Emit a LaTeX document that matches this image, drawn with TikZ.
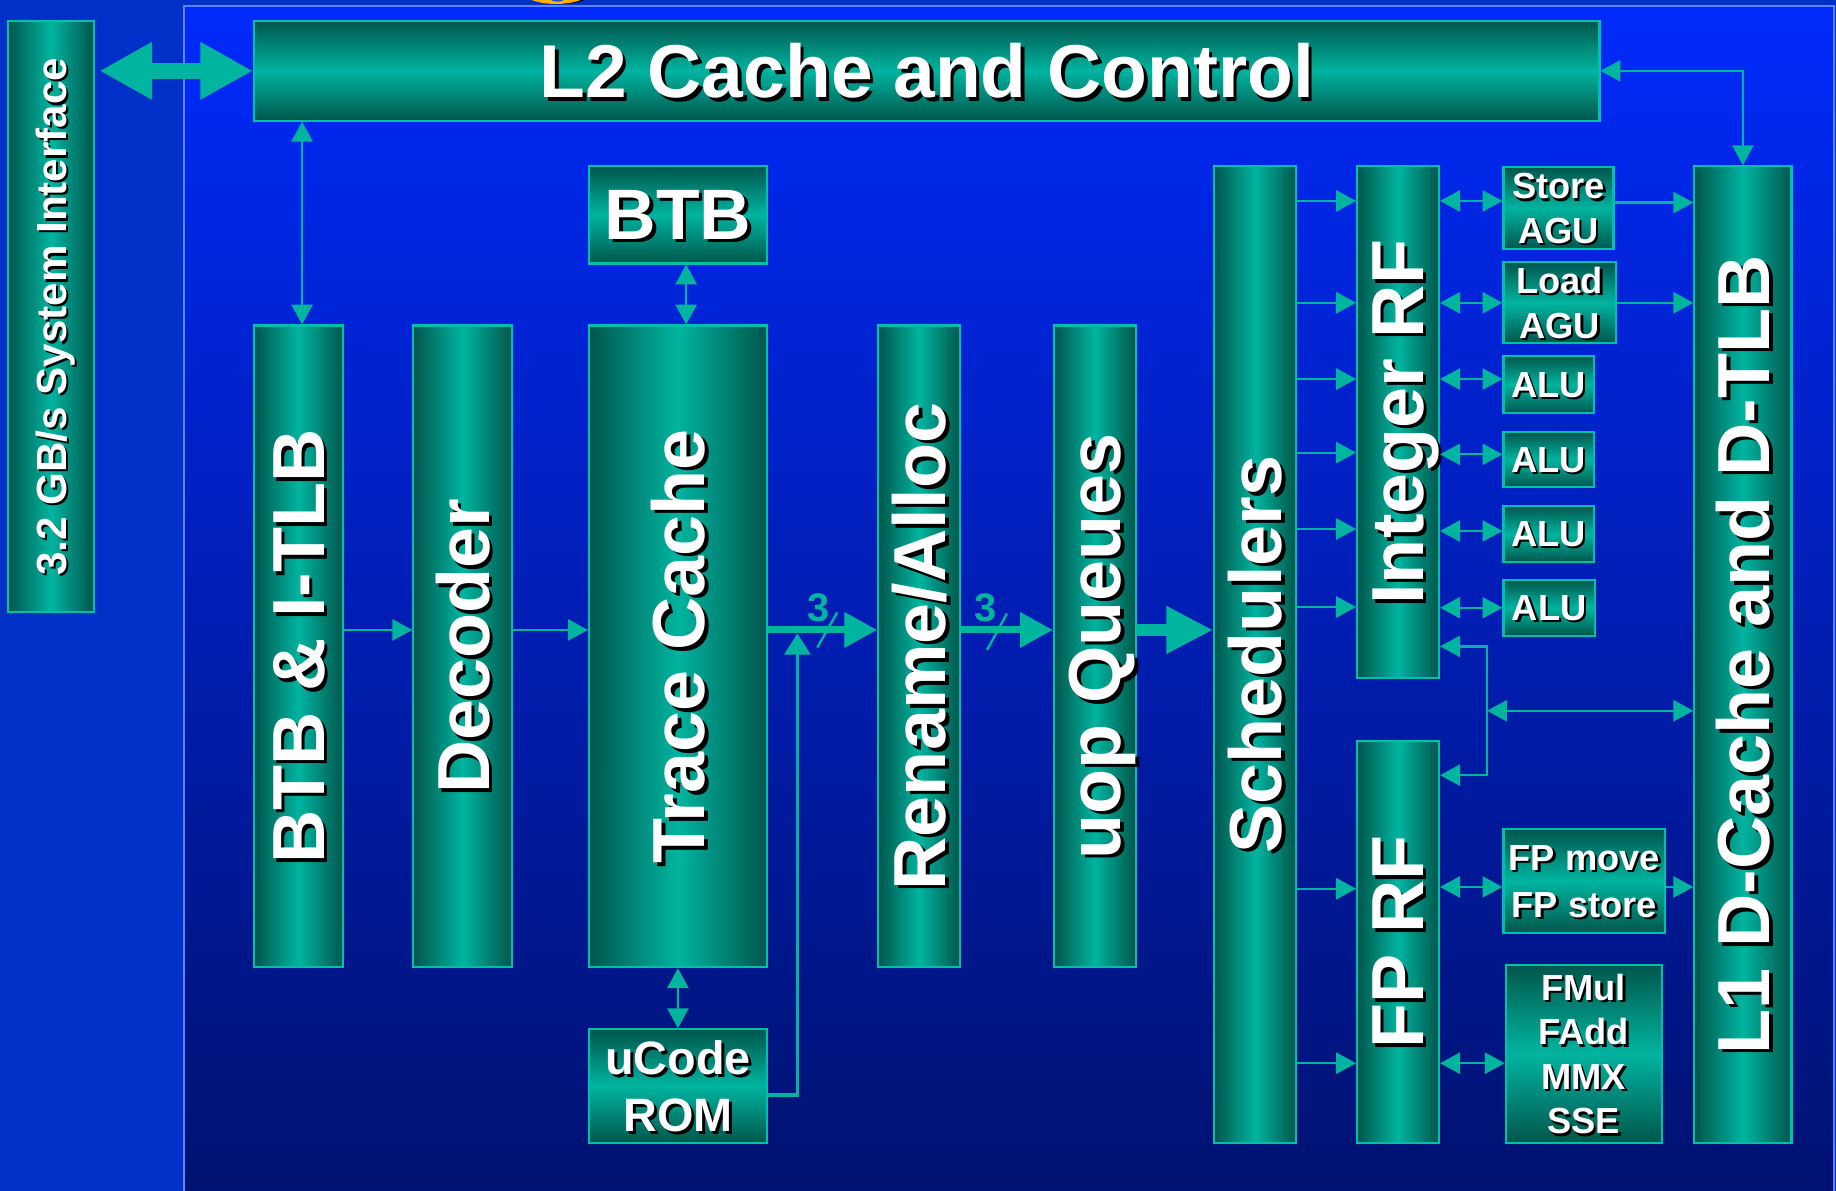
\documentclass[tikz,border=0pt]{standalone}
\usepackage{fontspec}
\usepackage{graphicx}
\setmainfont{Liberation Sans}
\usetikzlibrary{arrows.meta}
\definecolor{tealB}{RGB}{0,180,160}
\definecolor{tealD}{RGB}{0,86,76}
\definecolor{tealE}{RGB}{0,192,172}
\definecolor{bgOut}{RGB}{0,48,200}
\definecolor{bgTop}{RGB}{0,42,250}
\definecolor{bgBot}{RGB}{0,18,112}
\definecolor{panelEdge}{RGB}{95,130,255}
\definecolor{logoOr}{RGB}{255,176,0}
\definecolor{logoIn}{RGB}{40,70,200}
\newcommand\shH[2][2.5pt]{\raisebox{0pt}[\height][0pt]{\makebox[0pt][l]{\kern#1\raisebox{-#1}{\color{black}#2}}#2}}
\newcommand\shV[2][2.5pt]{\rotatebox{90}{\raisebox{0pt}[\height][0pt]{\makebox[0pt][l]{\kern-#1\raisebox{-#1}{\color{black}#2}}#2}}}
\newcommand\fsz[2]{\fontsize{#1}{#2}\selectfont}
\begin{document}
\begin{tikzpicture}[x=1pt,y=-1pt,
  box/.style={draw=tealE, line width=1.8pt, text=white, inner sep=0pt},
  hbox/.style={box, top color=tealD, bottom color=tealD, middle color=tealB},
  vbox/.style={box, left color=tealD, right color=tealD, middle color=tealB},
  conn/.style={draw=tealB, line width=2pt},
  >={Triangle[length=17pt,width=18pt]},
  bigv/.style={font=\bfseries\fsz{63}{70}},
  small/.style={font=\bfseries\fsz{31}{38}, align=center}]
\useasboundingbox (0,0) rectangle (1568,1017);
% background
\fill[bgOut] (0,0) rectangle (1568,1017);
\shade[top color=bgTop, bottom color=bgBot] (157,5) rectangle (1566,1017);
\draw[panelEdge, line width=2pt] (157,1022) -- (157,5) -- (1566,5) -- (1566,1022);
\begin{scope}
  \clip (430,0) rectangle (530,4.5);
  \fill[black] (478,-10) ellipse (31.5 and 13.4);
  \fill[logoOr] (475,-10) ellipse (31.5 and 13.4);
  \fill[logoIn] (476,-8) ellipse (10 and 9.5);
\end{scope}
% helper coordinates
\coordinate (x258) at (258,0);
\coordinate (x586) at (586,0);
\coordinate (x681) at (681,0);
\coordinate (xbus) at (1270,0);
\coordinate (y538) at (0,538);
\coordinate (y541) at (0,541);
\coordinate (y935) at (0,935);
\coordinate (y552) at (0,552);
\coordinate (y607) at (0,607);
\coordinate (y662) at (0,662);
% boxes
\node[vbox, minimum width=73pt, minimum height=505pt, font=\bfseries\fsz{36}{40}] (sysif) at (43.5,270.5) {\shV[2pt]{3.2 GB/s System Interface}};
\node[hbox, minimum width=1149pt, minimum height=85pt, font=\bfseries\fsz{64}{70}] (l2) at (791.5,60.5) {\shH[3pt]{L2 Cache and Control}};
\node[hbox, minimum width=152pt, minimum height=83pt, font=\bfseries\fsz{61}{66}] (btb) at (579,183.5) {\shH[3pt]{BTB}};
\node[vbox, bigv, minimum width=76pt, minimum height=548pt] (btbitlb) at (255,552) {\shV[3pt]{BTB \& I-TLB}};
\node[vbox, bigv, minimum width=84pt, minimum height=548pt] (decoder) at (395,552) {\shV[3pt]{Decoder}};
\node[vbox, bigv, minimum width=152pt, minimum height=548pt] (trace) at (579,552) {\shV[3pt]{Trace Cache}};
\node[hbox, minimum width=152pt, minimum height=97pt, align=center, font=\bfseries\fsz{40}{48}] (ucode) at (579,927.5) {\shH{uCode}\\\shH{ROM}};
\node[vbox, bigv, minimum width=70pt, minimum height=548pt] (rename) at (785,552) {\shV[3pt]{Rename/Alloc}};
\node[vbox, bigv, minimum width=70pt, minimum height=548pt] (uopq) at (935,552) {\shV[3pt]{uop Queues}};
\node[vbox, bigv, minimum width=70pt, minimum height=834pt] (sched) at (1072,559) {\shV[3pt]{Schedulers}};
\node[vbox, bigv, minimum width=70pt, minimum height=437pt] (intrf) at (1194,360.5) {\shV[3pt]{Integer RF}};
\node[vbox, bigv, minimum width=70pt, minimum height=343pt] (fprf) at (1194,804.5) {\shV[3pt]{FP RF}};
\node[hbox, small, minimum width=94pt, minimum height=70pt] (sagu) at (1331,178) {\shH[2pt]{Store}\\\shH[2pt]{AGU}};
\node[hbox, small, minimum width=96pt, minimum height=69pt] (lagu) at (1332,258.5) {\shH[2pt]{Load}\\\shH[2pt]{AGU}};
\node[hbox, small, minimum width=77pt, minimum height=49pt] (alu1) at (1322.5,328.5) {\shH[2pt]{ALU}};
\node[hbox, small, minimum width=77pt, minimum height=47pt] (alu2) at (1322.5,392.5) {\shH[2pt]{ALU}};
\node[hbox, small, minimum width=77pt, minimum height=48pt] (alu3) at (1322.5,456) {\shH[2pt]{ALU}};
\node[hbox, small, minimum width=78pt, minimum height=48pt] (alu4) at (1323,519) {\shH[2pt]{ALU}};
\node[hbox, small, font=\bfseries\fsz{31}{40}, minimum width=138pt, minimum height=89pt] (fpmv) at (1353,752.5) {\shH[2pt]{FP move}\\\shH[2pt]{FP store}};
\node[hbox, small, minimum width=133pt, minimum height=152pt] (fmul) at (1352.5,900) {\shH[2pt]{FMul}\\\shH[2pt]{FAdd}\\\shH[2pt]{MMX}\\\shH[2pt]{SSE}};
\node[vbox, bigv, minimum width=83pt, minimum height=834pt] (l1) at (1488.5,559) {\shV[3pt]{L1 D-Cache and D-TLB}};
% connectors
\coordinate (sysR) at ([xshift=4pt]sysif.east);
\draw[conn, line width=14pt, {Triangle[length=45pt,width=46pt]}-{Triangle[length=45pt,width=46pt]}] (sysR |- l2.west) -- (l2.west);
\draw[conn,<->] (l2.south -| x258) -- (btbitlb.north -| x258);
\draw[conn,<->] (l2.east) -| (l1.north);
\draw[conn,<->] (btb.south -| x586) -- (trace.north -| x586);
\draw[conn,<->] (trace.south) -- (ucode.north);
\draw[conn,->] (btbitlb.east |- y538) -- (decoder.west |- y538);
\draw[conn,->] (decoder.east |- y538) -- (trace.west |- y538);
\draw[conn, line width=6pt, -{Triangle[length=28pt,width=29pt]}] (trace.east |- y538) -- (rename.west |- y538);
\draw[conn, line width=6pt, -{Triangle[length=28pt,width=29pt]}] (rename.east |- y538) -- (uopq.west |- y538);
\draw[conn, line width=10pt, -{Triangle[length=40pt,width=38pt]}] (uopq.east |- y538) -- (sched.west |- y538);
\draw[conn, line width=3pt, -{Triangle[length=18pt,width=22pt]}] (ucode.east |- y935) -| (x681 |- y541);
\node[text=tealB, font=\bfseries\fsz{34}{34}, inner sep=0pt] (three1) at (699,519) {3};
\draw[tealB, line width=2pt] (698,553) -- (715,523);
\node[text=tealB, font=\bfseries\fsz{34}{34}, inner sep=0pt] (three2) at (842,519) {3};
\draw[tealB, line width=2pt] (843,555) -- (860,524);
\foreach \yy in {171.6,258.6,323.7,386.6,451.8,518.4,759,908}{
  \coordinate (tmp) at (0,\yy);
  \ifdim\yy pt<600pt
    \draw[conn,->] (sched.east |- tmp) -- (intrf.west |- tmp);
  \else
    \draw[conn,->] (sched.east |- tmp) -- (fprf.west |- tmp);
  \fi
}
\foreach \n/\yy in {sagu/171.6,lagu/258.6,alu1/323.7,alu2/388,alu3/453.5,alu4/519}{
  \coordinate (tmp) at (0,\yy);
  \draw[conn,<->] (intrf.east |- tmp) -- (\n.west |- tmp);
}
\foreach \n/\yy in {sagu/173,lagu/258.6,fpmv/757.5}{
  \coordinate (tmp) at (0,\yy);
  \draw[conn,->] (\n.east |- tmp) -- (l1.west |- tmp);
}
\foreach \n/\yy in {fpmv/757.5,fmul/908}{
  \coordinate (tmp) at (0,\yy);
  \draw[conn,<->] (fprf.east |- tmp) -- (\n.west |- tmp);
}
\draw[conn,<->] (intrf.east |- y552) -| (xbus |- y662) -- (fprf.east |- y662);
\draw[conn,<->] (xbus |- y607) -- (l1.west |- y607);
\end{tikzpicture}
\end{document}
